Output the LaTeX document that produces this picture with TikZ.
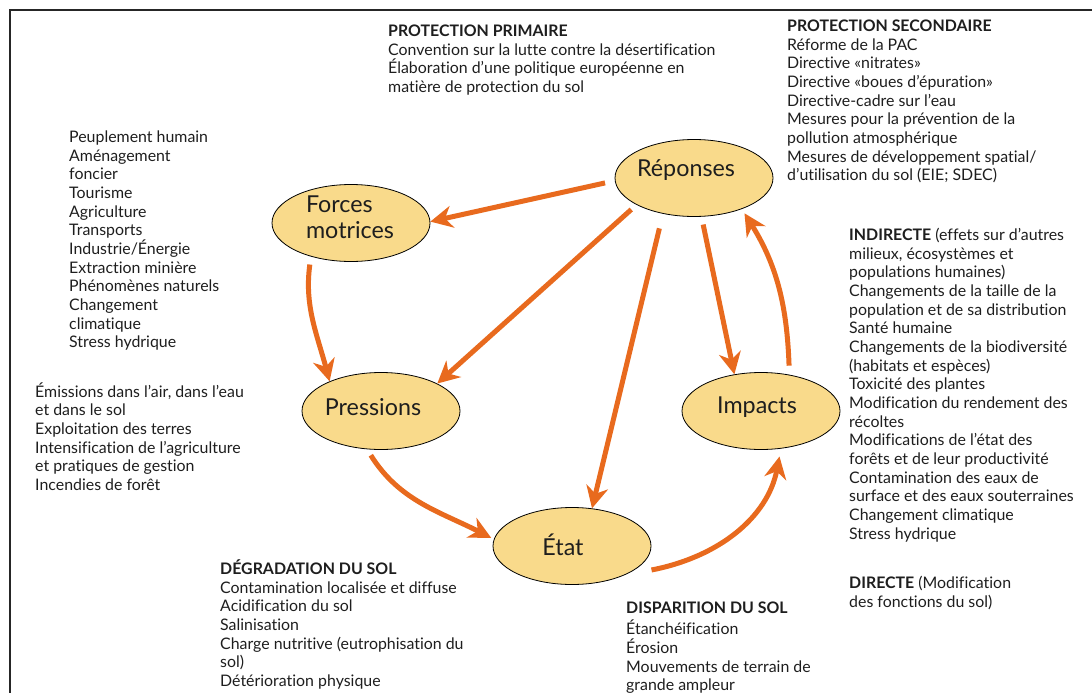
\documentclass[tikz,border=0pt]{standalone}
\usepackage{fontspec}
\setmainfont{Lato}[Ligatures={NoCommon}]
\usetikzlibrary{shapes.geometric,arrows.meta}
\definecolor{arrcol}{RGB}{232,106,30}
\definecolor{blobfill}{RGB}{249,218,139}
\definecolor{txtcol}{RGB}{30,30,30}
\begin{document}
\begin{tikzpicture}[x=1pt,y=1pt,
  blob/.style={ellipse, draw=black, line width=0.8pt, fill=blobfill,
    minimum width=158pt, minimum height=77pt, inner sep=0pt},
  blobtxt/.style={text=txtcol, inner sep=0pt, align=left,
    font=\fontsize{23.3}{25.5}\selectfont},
  flow/.style={draw=arrcol, line width=5pt,
    -{Stealth[length=22pt,width=22pt,inset=7pt]}},
  note/.style={anchor=north west, inner sep=0pt, align=left, text=txtcol,
    font=\fontsize{15.9}{18.65}\selectfont},
  frame/.style={draw=black!85, line width=1.4pt}
]
\useasboundingbox (0,0) rectangle (1092,-693);
\draw[frame] (10,-693) -- (10,-10) -- (1092,-10);

% ellipses
\node[blob, label={[blobtxt,xshift=-8pt,yshift=8pt]center:{Réponses}}] (R) at (694,-178) {};
\node[blob, label={[blobtxt,xshift=-1pt,yshift=6pt]center:{Forces\\motrices}}] (F) at (351,-223) {};
\node[blob, label={[blobtxt,xshift=-8pt,yshift=4pt]center:{Pressions}}] (P) at (381,-411) {};
\node[blob, label={[blobtxt,xshift=-4pt,yshift=4pt]center:{Impacts}}] (I) at (761,-411) {};
\node[blob, label={[blobtxt,xshift=-9pt,yshift=1pt]center:{État}}] (E) at (572,-546) {};

% connectors
\draw[flow, shorten <=10pt] (R.182) -- (F.1);
\draw[flow, shorten <=7pt] (R.205) -- (P.26);
\draw[flow, shorten <=15pt] (R.229) -- (E.62);
\draw[flow, shorten <=8pt] (R.281) -- (I.126);
\draw[flow, shorten <=9pt, shorten >=5pt] (I.52) to[out=92,in=-58] (R.-33);
\draw[flow, shorten <=8pt] (F.220) to[out=262,in=105] (P.150);
\draw[flow, shorten <=7pt, shorten >=3pt] (P.250) to[out=-58,in=153] (E.175);
\draw[flow, shorten >=8pt] ([xshift=17pt]E.-21) to[out=11,in=259] (I.-62);

% texts
\node[note] (pp) at (388,-23.4) {\strut\textbf{PROTECTION PRIMAIRE}\\
Convention sur la lutte contre la désertification\\
Élaboration d’une politique européenne en\\
matière de protection du sol};

\node[note] (ps) at (787,-18.4) {\strut\textbf{PROTECTION SECONDAIRE}\\
Réforme de la PAC\\
Directive «nitrates»\\
Directive «boues d’épuration»\\
Directive-cadre sur l’eau\\
Mesures pour la prévention de la\\
pollution atmosphérique\\
Mesures de développement spatial/\\
d’utilisation du sol (EIE; SDEC)};

\node[note] (fm) at (69,-129.4) {\strut Peuplement humain\\
Aménagement\\
foncier\\
Tourisme\\
Agriculture\\
Transports\\
Industrie/Énergie\\
Extraction minière\\
Phénomènes naturels\\
Changement\\
climatique\\
Stress hydrique};

\node[note] (pr) at (35,-382.4) {\strut Émissions dans l’air, dans l’eau\\
et dans le sol\\
Exploitation des terres\\
Intensification de l’agriculture\\
et pratiques de gestion\\
Incendies de forêt};

\node[note] (ind) at (849,-227.4) {\strut\textbf{INDIRECTE} (effets sur d’autres\\
milieux, écosystèmes et\\
populations humaines)\\
Changements de la taille de la\\
population et de sa distribution\\
Santé humaine\\
Changements de la biodiversité\\
(habitats et espèces)\\
Toxicité des plantes\\
Modification du rendement des\\
récoltes\\
Modifications de l’état des\\
forêts et de leur productivité\\
Contamination des eaux de\\
surface et des eaux souterraines\\
Changement climatique\\
Stress hydrique};

\node[note] (dir) at (849,-575.4) {\strut\textbf{DIRECTE} (Modification\\
des fonctions du sol)};

\node[note] (deg) at (220,-559.4) {\strut\textbf{DÉGRADATION DU SOL}\\
Contamination localisée et diffuse\\
Acidification du sol\\
Salinisation\\
Charge nutritive (eutrophisation du\\
sol)\\
Détérioration physique};

\node[note] (dis) at (626,-600.4) {\strut\textbf{DISPARITION DU SOL}\\
Étanchéification\\
Érosion\\
Mouvements de terrain de\\
grande ampleur};
\end{tikzpicture}
\end{document}
